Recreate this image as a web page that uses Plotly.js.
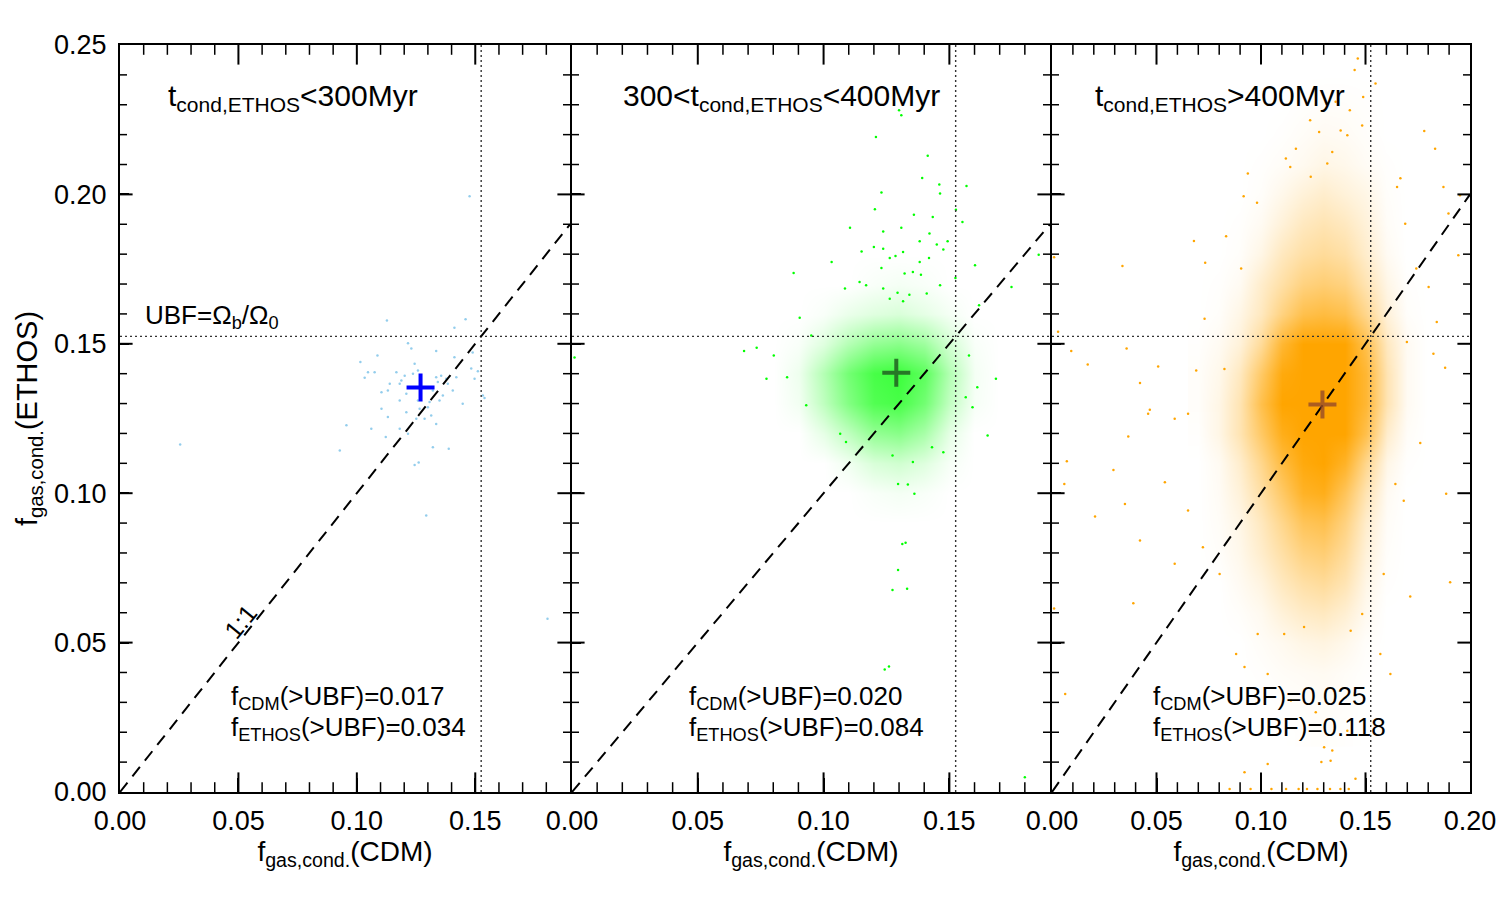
<!DOCTYPE html>
<html><head><meta charset="utf-8">
<script src="https://cdn.plot.ly/plotly-3.0.1.min.js"></script>
<style>html,body{margin:0;padding:0;background:#fff}</style>
</head><body><div id="chart" style="width:1500px;height:900px"></div>
<script>
// ---------- data ----------
const UBF = 0.1525;                 // Omega_b / Omega_0
const xMax = [0.19, 0.19, 0.20];    // x-range upper limit of each panel
const yMax = 0.25;
const minorStep = 0.01;             // minor tick spacing on both axes
const majorEvery = 5;               // a major tick every 5 minor steps (0.05)
const panelTitles = ['t<sub>cond,ETHOS</sub>&lt;300Myr', '300&lt;t<sub>cond,ETHOS</sub>&lt;400Myr', 't<sub>cond,ETHOS</sub>&gt;400Myr'];
const fCDM = ['0.017', '0.020', '0.025'];
const fETHOS = ['0.034', '0.084', '0.118'];
const meanX = [0.1269, 0.1289, 0.1294];
const meanY = [0.1354, 0.1403, 0.1297];

// panel 1 halos (t < 300 Myr)
const p1X = [0.1127,0.1412,0.1459,0.1216,0.1335,0.1230,0.1015,0.1087,0.1244,0.1412,
             0.1483,0.1047,0.1075,0.1033,0.1167,0.1188,0.1202,0.1237,0.1258,0.1335,
             0.1356,0.1377,0.1342,0.1384,0.1420,0.1497,0.1139,0.1181,0.1104,0.1131,
             0.1209,0.1321,0.1363,0.1405,0.1532,0.1181,0.1258,0.1307,0.1349,0.1447,
             0.1104,0.1209,0.1265,0.1300,0.1131,0.1251,0.1286,0.1314,0.1335,0.0956,
             0.1061,0.1181,0.1216,0.1122,0.1321,0.1388,0.0928,0.1476,0.0254,0.1244,
             0.1261,0.1293,0.1805,0.1539,0.1511,0.1489];
const p1Y = [0.1578,0.1554,0.1582,0.1502,0.1476,0.1484,0.1439,0.1461,0.1433,0.1455,
             0.1417,0.1405,0.1405,0.1386,0.1405,0.1377,0.1393,0.1400,0.1411,0.1388,
             0.1393,0.1383,0.1372,0.1366,0.1388,0.1383,0.1366,0.1366,0.1338,0.1344,
             0.1333,0.1344,0.1327,0.1344,0.1327,0.1310,0.1310,0.1305,0.1310,0.1299,
             0.1283,0.1271,0.1283,0.1288,0.1255,0.1249,0.1249,0.1260,0.1232,0.1227,
             0.1216,0.1216,0.1199,0.1188,0.1154,0.1149,0.1143,0.1994,0.1163,0.1094,
             0.1103,0.0925,0.0580,0.1319,0.1408,0.1471];

// panel 2: density of the dense cloud (fraction of area covered by points)
const p2GridX = [0.08,0.09,0.10,0.11,0.12,0.13,0.14,0.15,0.16,0.17];
const p2GridY = [0.09,0.10,0.11,0.12,0.13,0.14,0.15,0.16,0.17,0.18];
const p2GridZ = [
  [0,0,0,0,0,0,0,0,0,0],
  [0,0,0,0,0.03,0.05,0.03,0,0,0],
  [0,0,0,0.07,0.18,0.22,0.15,0.04,0,0],
  [0,0,0.12,0.30,0.50,0.55,0.40,0.12,0,0],
  [0,0.06,0.30,0.58,0.80,0.85,0.65,0.28,0.04,0],
  [0,0.08,0.35,0.65,0.85,0.90,0.75,0.35,0.05,0],
  [0,0.03,0.15,0.35,0.50,0.55,0.45,0.20,0.03,0],
  [0,0,0.03,0.10,0.15,0.18,0.12,0.05,0,0],
  [0,0,0,0,0.03,0.05,0.03,0,0,0],
  [0,0,0,0,0,0,0,0,0,0]];
// panel 2: isolated halos
const p2X = [0.1309,0.1300,0.1208,0.1414,0.1230,0.1392,0.1460,0.1463,0.1568,0.1526,
             0.1204,0.1359,0.1434,0.1552,0.1105,0.1237,0.1309,0.1421,0.1382,0.1493,
             0.1450,0.1200,0.1237,0.1476,0.1151,0.1032,0.1286,0.1316,0.1263,0.1419,
             0.1230,0.1382,0.1355,0.0881,0.1322,0.1387,0.1602,0.1855,0.1747,0.1524,
             0.1143,0.1169,0.1085,0.1237,0.1294,0.1341,0.1410,0.1463,0.1263,0.1316,
             0.0684,0.0734,0.0802,0.0773,0.0855,0.0905,0.0931,0.0951,0.1618,0.1578,
             0.1611,0.1652,0.1685,0.1592,0.1565,0.1066,0.1089,0.1296,0.1335,0.1361,
             0.1431,0.1476,0.1274,0.1355,0.1313,0.1326,0.1296,0.1274,0.1332,0.1243,
             0.1260,0.1800,0.0010];
const p2Y = [0.2265,0.2282,0.2192,0.2129,0.2006,0.2055,0.2033,0.2003,0.2028,0.1949,
             0.1950,0.1932,0.1924,0.1908,0.1888,0.1876,0.1888,0.1869,0.1843,0.1843,
             0.1832,0.1824,0.1818,0.1816,0.1809,0.1774,0.1794,0.1807,0.1787,0.1787,
             0.1754,0.1774,0.1740,0.1737,0.1735,0.1731,0.1763,0.1798,0.1690,0.1720,
             0.1707,0.1696,0.1685,0.1685,0.1671,0.1664,0.1668,0.1696,0.1651,0.1642,
             0.1476,0.1487,0.1461,0.1383,0.1388,0.1587,0.1294,0.1528,0.1629,0.1461,
             0.1355,0.1193,0.1383,0.1288,0.1321,0.1199,0.1171,0.1031,0.1029,0.0998,
             0.1154,0.1137,0.1126,0.1104,0.0830,0.0834,0.0743,0.0676,0.0680,0.0410,
             0.0420,0.0049,0.1454];

// panel 3: density of the dense cloud
const p3GridX = [0.07,0.08,0.09,0.10,0.11,0.12,0.13,0.14,0.15,0.16,0.17,0.18];
const p3GridY = [0.02,0.03,0.04,0.05,0.06,0.07,0.08,0.09,0.10,0.11,0.12,0.13,
                 0.14,0.15,0.16,0.17,0.18,0.19,0.20,0.21,0.22,0.23,0.24];
const p3GridZ = [
  [0,0,0,0,0,0.01,0.02,0.01,0,0,0,0],
  [0,0,0,0,0.01,0.02,0.03,0.02,0,0,0,0],
  [0,0,0,0.01,0.03,0.04,0.05,0.03,0.01,0,0,0],
  [0,0,0,0.03,0.06,0.10,0.12,0.08,0.02,0,0,0],
  [0,0,0.02,0.06,0.15,0.22,0.25,0.18,0.06,0,0,0],
  [0,0,0.05,0.12,0.25,0.35,0.40,0.30,0.10,0.01,0,0],
  [0,0.02,0.08,0.20,0.35,0.50,0.55,0.40,0.15,0.02,0,0],
  [0,0.03,0.10,0.25,0.45,0.65,0.70,0.50,0.20,0.03,0,0],
  [0,0.04,0.15,0.35,0.60,0.85,0.90,0.65,0.30,0.05,0,0],
  [0,0.05,0.20,0.45,0.75,0.95,1,0.85,0.45,0.10,0.01,0],
  [0.01,0.10,0.30,0.60,0.90,1,1,1,0.70,0.20,0.03,0],
  [0.02,0.10,0.30,0.70,1,1,1,1,0.80,0.30,0.05,0],
  [0.02,0.08,0.25,0.60,0.95,1,1,1,0.80,0.30,0.05,0],
  [0.01,0.05,0.15,0.40,0.80,1,1,1,0.70,0.25,0.05,0],
  [0,0.02,0.10,0.25,0.50,0.70,0.75,0.70,0.45,0.15,0.02,0],
  [0,0.01,0.05,0.20,0.35,0.50,0.55,0.50,0.30,0.10,0.01,0],
  [0,0,0.02,0.10,0.25,0.35,0.40,0.35,0.20,0.05,0,0],
  [0,0,0.01,0.05,0.15,0.25,0.30,0.25,0.15,0.03,0,0],
  [0,0,0,0.02,0.08,0.15,0.20,0.15,0.10,0.02,0,0],
  [0,0,0,0.01,0.03,0.06,0.10,0.08,0.04,0.01,0,0],
  [0,0,0,0,0.01,0.03,0.05,0.04,0.02,0,0,0],
  [0,0,0,0,0,0.01,0.02,0.02,0.01,0,0,0],
  [0,0,0,0,0,0,0,0,0,0,0,0]];
// panel 3: isolated halos
const p3X = [0.1463,0.1448,0.1548,0.1357,0.1425,0.1489,0.1235,0.1278,0.1381,0.1413,
             0.1484,0.1781,0.1833,0.1167,0.1119,0.1341,0.1317,0.1140,0.0937,0.1238,
             0.1667,0.1873,0.1952,0.1651,0.0917,0.0981,0.1690,0.1897,0.0833,0.0679,
             0.0733,0.0337,0.0905,0.1743,0.1944,0.1802,0.1841,0.0730,0.0357,0.0171,
             0.0092,0.0029,0.0508,0.0421,0.0690,0.0825,0.1881,0.1825,0.1698,0.0468,
             0.0587,0.0460,0.0651,0.0365,0.0071,0.0294,0.0206,0.0540,0.0651,0.0349,
             0.0421,0.0059,0.0389,0.0587,0.0722,0.0802,0.0063,0.1905,0.1714,0.1762,
             0.1683,0.1643,0.1886,0.1587,0.1619,0.1571,0.0881,0.0921,0.1032,0.1302,
             0.1341,0.1333,0.1289,0.1032,0.1452,0.0921,0.1262,0.1143,0.1349,0.1413,
             0.1206,0.1111,0.1429,0.0984,0.1484,0.0850,0.0950,0.1050,0.1120,0.1180,
             0.1220,0.1270,0.1330,0.1380,0.1420,0.0010,0.0010];
const p3Y = [0.2455,0.2416,0.2371,0.2310,0.2282,0.2326,0.2248,0.2209,0.2214,0.2198,
             0.2231,0.2212,0.2153,0.2153,0.2120,0.2142,0.2103,0.2092,0.2070,0.2059,
             0.2054,0.2025,0.1997,0.2025,0.1994,0.1972,0.1902,0.1936,0.1860,0.1844,
             0.1771,0.1760,0.1752,0.1752,0.1796,0.1690,0.1573,0.1584,0.1484,0.1431,
             0.1476,0.1540,0.1424,0.1369,0.1411,0.1416,0.1420,0.1467,0.1506,0.1279,
             0.1249,0.1266,0.1266,0.1190,0.1107,0.1078,0.0922,0.1037,0.0942,0.0964,
             0.0842,0.1031,0.0632,0.0764,0.0819,0.0730,0.0328,0.0702,0.0654,0.1168,
             0.0975,0.1031,0.0998,0.0730,0.0395,0.0462,0.0462,0.0418,0.0395,0.0150,
             0.0139,0.0105,0.0100,0.0094,0.0044,0.0066,0.0267,0.0306,0.0339,0.0205,
             0.0552,0.0529,0.0540,0.0529,0.0596,0.0010,0.0010,0.0010,0.0010,0.0010,
             0.0010,0.0010,0.0010,0.0010,0.0010,0.1790,0.0614];

// ---------- styling ----------
const FONT = 'Liberation Sans, Arial, Helvetica, sans-serif';
const W = 1350;
const domains = [[0, 450/W], [452/W, 930/W], [932/W, 1]];
const ptColors = ['#93cdec', '#00ff00', '#ffa500'];
const densScales = [null,
  [[0, 'rgba(0,255,0,0)'], [1, 'rgba(0,255,0,0.85)']],
  [[0, 'rgba(255,165,0,0)'], [1, 'rgba(255,165,0,1)']]];
const crossColors = ['#0000ff', 'rgba(35,105,35,0.9)', 'rgba(150,75,40,0.8)'];
const axSuffix = ['', '2', '3'];

const traces = [];
const densities = [null, [p2GridX, p2GridY, p2GridZ], [p3GridX, p3GridY, p3GridZ]];
const points = [[p1X, p1Y], [p2X, p2Y], [p3X, p3Y]];

// frame ticks on all four sides: line markers centred on the frame,
// the outer half is clipped away by the plot area
function frameTicks(xa, ya, xTop, vals, isX, len, width) {
  const edge = isX ? [0, yMax] : [0, xTop];
  const a = [], b = [];
  edge.forEach(e => vals.forEach(v => { a.push(v); b.push(e); }));
  return {type: 'scatter', mode: 'markers', xaxis: xa, yaxis: ya, cliponaxis: true,
    x: isX ? a : b, y: isX ? b : a,
    marker: {symbol: isX ? 'line-ns' : 'line-ew', size: 2 * len, color: 'black', line: {width: width, color: 'black'}},
    hoverinfo: 'skip', showlegend: false};
}

for (let i = 0; i < 3; i++) {
  const xa = 'x' + axSuffix[i], ya = 'y' + axSuffix[i];
  if (densities[i]) {
    traces.push({type: 'heatmap', x: densities[i][0], y: densities[i][1], z: densities[i][2],
      xaxis: xa, yaxis: ya, zsmooth: 'best', zmin: 0, zmax: 1, showscale: false, hoverinfo: 'skip',
      colorscale: densScales[i]});
  }
  traces.push({type: 'scatter', mode: 'markers', x: points[i][0], y: points[i][1],
    xaxis: xa, yaxis: ya, marker: {size: 2.5, color: ptColors[i]}, hoverinfo: 'skip', showlegend: false});
  // UBF dotted lines
  traces.push({type: 'scatter', mode: 'lines', x: [0, xMax[i]], y: [UBF, UBF], xaxis: xa, yaxis: ya,
    line: {color: '#333', width: 1.4, dash: '2px,3px'}, hoverinfo: 'skip', showlegend: false});
  traces.push({type: 'scatter', mode: 'lines', x: [UBF, UBF], y: [0, yMax], xaxis: xa, yaxis: ya,
    line: {color: '#333', width: 1.4, dash: '2px,3px'}, hoverinfo: 'skip', showlegend: false});
  // 1:1 dashed line
  traces.push({type: 'scatter', mode: 'lines', x: [0, xMax[i]], y: [0, xMax[i]], xaxis: xa, yaxis: ya,
    line: {color: 'black', width: 2, dash: '12px,8px'}, hoverinfo: 'skip', showlegend: false});
  // mean cross
  traces.push({type: 'scatter', mode: 'markers', x: [meanX[i]], y: [meanY[i]], xaxis: xa, yaxis: ya,
    marker: {symbol: 'cross-thin', size: 20, line: {width: 4, color: crossColors[i]}, color: crossColors[i]},
    hoverinfo: 'skip', showlegend: false});

  const mx = [], my = [], Mx = [], My = [];
  for (let k = 1; k < Math.round(xMax[i] / minorStep); k++) (k % majorEvery ? mx : Mx).push(+(k * minorStep).toFixed(3));
  for (let k = 1; k < Math.round(yMax / minorStep); k++) (k % majorEvery ? my : My).push(+(k * minorStep).toFixed(3));
  traces.push(frameTicks(xa, ya, xMax[i], mx, true, 7, 1.5));
  traces.push(frameTicks(xa, ya, xMax[i], Mx, true, 14, 2));
  traces.push(frameTicks(xa, ya, xMax[i], my, false, 5, 1.5));
  traces.push(frameTicks(xa, ya, xMax[i], My, false, 9, 2));
}

const layout = {
  width: 1500, height: 900, showlegend: false,
  paper_bgcolor: 'white', plot_bgcolor: 'white',
  margin: {l: 120, r: 30, t: 45, b: 108},
  font: {family: FONT, color: 'black', size: 26},
  annotations: []
};

for (let i = 0; i < 3; i++) {
  const s = axSuffix[i];
  layout['xaxis' + s] = {
    domain: domains[i], range: [0, xMax[i]], anchor: 'y' + s,
    showgrid: false, zeroline: false, showline: true, linecolor: 'black', linewidth: 2, mirror: true,
    ticks: 'inside', ticklen: 14, tickwidth: 2, tickcolor: 'black',
    tickmode: 'linear', tick0: 0, dtick: 0.05, tickformat: '.2f',
    tickfont: {family: FONT, size: 27, color: 'black'}, ticklabelstandoff: 4,
    title: {text: 'f<sub>gas,cond.</sub>(CDM)', font: {family: FONT, size: 28, color: 'black'}, standoff: 6}
  };
  layout['yaxis' + s] = {
    domain: [0, 1], range: [0, yMax], anchor: 'x' + s,
    showgrid: false, zeroline: false, showline: true, linecolor: 'black', linewidth: 2, mirror: true,
    ticks: 'inside', ticklen: 9, tickwidth: 2, tickcolor: 'black',
    tickmode: 'linear', tick0: 0, dtick: 0.05, tickformat: '.2f', showticklabels: i === 0,
    tickfont: {family: FONT, size: 27, color: 'black'}, ticklabelstandoff: 6,
    title: i === 0 ? {text: 'f<sub>gas,cond.</sub>(ETHOS)', font: {family: FONT, size: 29, color: 'black'}, standoff: 8} : {text: ''}
  };
  const xr = 'x' + s, yr = 'y' + s;
  layout.annotations.push({xref: xr, yref: yr, x: 0.0195, y: 0.2325, xanchor: 'left', yanchor: 'middle',
    text: panelTitles[i], showarrow: false, font: {family: FONT, size: 30, color: 'black'}});
  layout.annotations.push({xref: xr, yref: yr, x: [0.0462, 0.0457, 0.0474][i], y: 0.0317, xanchor: 'left', yanchor: 'middle',
    text: 'f<sub>CDM</sub>(&gt;UBF)=' + fCDM[i], showarrow: false, font: {family: FONT, size: 26, color: 'black'}});
  layout.annotations.push({xref: xr, yref: yr, x: [0.0462, 0.0457, 0.0474][i], y: 0.0212, xanchor: 'left', yanchor: 'middle',
    text: 'f<sub>ETHOS</sub>(&gt;UBF)=' + fETHOS[i], showarrow: false, font: {family: FONT, size: 26, color: 'black'}});
}
layout.annotations.push({xref: 'x', yref: 'y', x: 0.0097, y: 0.1592, xanchor: 'left', yanchor: 'middle',
  text: 'UBF=Ω<sub>b</sub>/Ω<sub>0</sub>', showarrow: false, font: {family: FONT, size: 26, color: 'black'}});
layout.annotations.push({xref: 'x', yref: 'y', x: 0.0507, y: 0.0570, xanchor: 'center', yanchor: 'middle',
  text: '1:1', textangle: -51, showarrow: false, font: {family: FONT, size: 25, color: 'black'}});

Plotly.newPlot('chart', traces, layout, {displayModeBar: false, staticPlot: true});
</script>
</body></html>
